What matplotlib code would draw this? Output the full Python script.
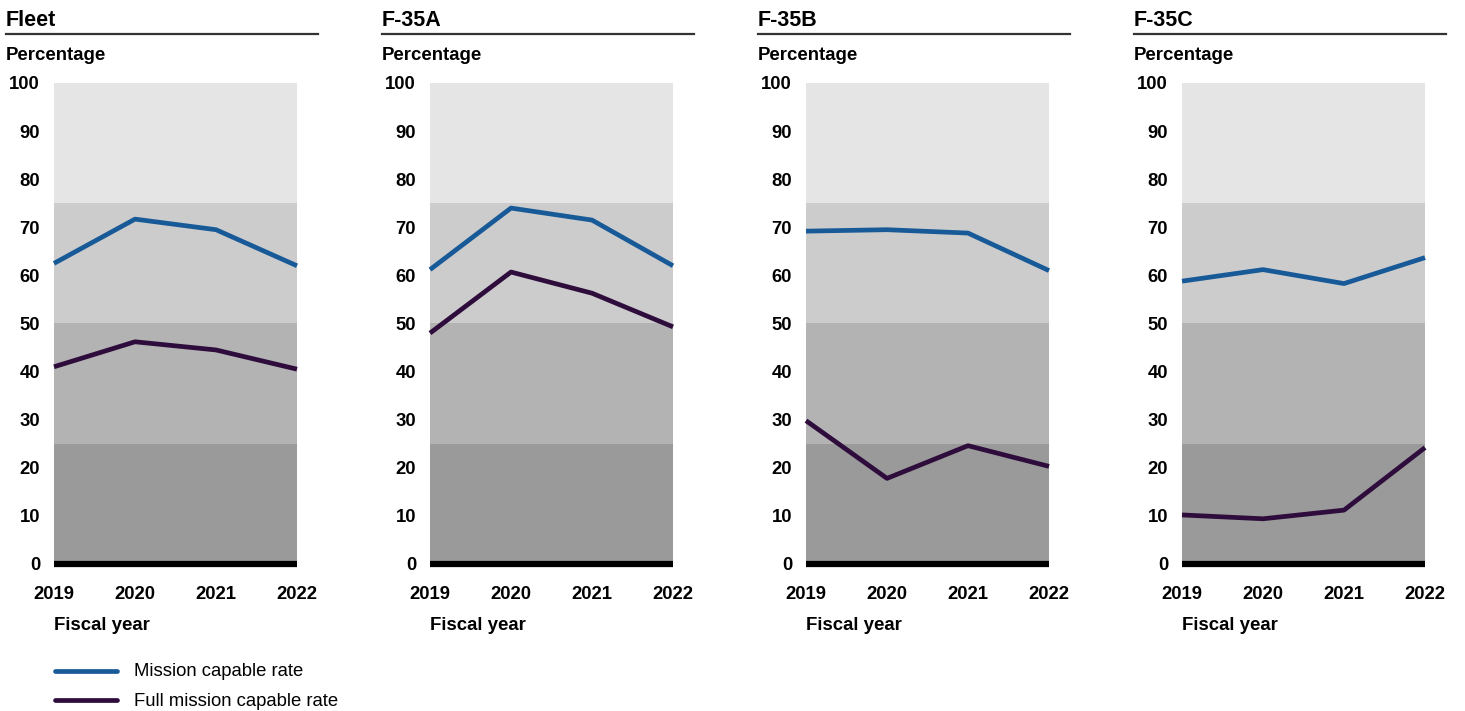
import matplotlib
matplotlib.use("Agg")
import matplotlib.pyplot as plt
from matplotlib.lines import Line2D

plt.rcParams['font.family'] = ['Liberation Sans', 'DejaVu Sans']

titles = ["Fleet", "F-35A", "F-35B", "F-35C"]
years = [2019, 2020, 2021, 2022]
mission_capable = [
    [62.5, 71.7, 69.5, 62.0],
    [61.2, 74.0, 71.5, 62.0],
    [69.2, 69.5, 68.8, 61.0],
    [58.8, 61.2, 58.3, 63.7],
]
full_mission_capable = [
    [41.0, 46.2, 44.5, 40.5],
    [48.0, 60.7, 56.3, 49.3],
    [29.8, 17.8, 24.6, 20.3],
    [10.2, 9.4, 11.2, 24.2],
]
yticks = [0, 10, 20, 30, 40, 50, 60, 70, 80, 90, 100]
bands = [(0, 25, "#9a9a9a"), (25, 50, "#b3b3b3"), (50, 75, "#cccccc"), (75, 100, "#e5e5e5")]

W, H = 1465, 711
fig = plt.figure(figsize=(W / 100, H / 100), dpi=100)

BLUE = "#185a98"
PURPLE = "#2e0d3d"

def fx(px):
    return px / W

def fy(py):
    return 1 - py / H

offset = 376
for i, t in enumerate(titles):
    x0 = 6 + i * offset
    ax_left = 54 + i * offset
    ax_w = 243
    ax = fig.add_axes([fx(ax_left), fy(564), fx(ax_w), (564 - 83) / H])
    for lo, hi, c in bands:
        ax.axhspan(lo, hi, color=c, lw=0, zorder=0)
    ax.axhline(0, color="black", lw=4.5, zorder=3, clip_on=False, solid_capstyle='butt')
    ax.plot(years, mission_capable[i], color=BLUE, lw=3.4, zorder=4, clip_on=False, solid_capstyle='butt')
    ax.plot(years, full_mission_capable[i], color=PURPLE, lw=3.4, zorder=4, clip_on=False, solid_capstyle='butt')
    ax.set_xlim(years[0], years[-1])
    ax.set_ylim(0, 100)
    ax.set_yticks(yticks)
    ax.set_xticks(years)
    ax.set_xticklabels([str(y) for y in years])
    ax.tick_params(axis='y', length=0, pad=10, labelsize=13.3)
    ax.tick_params(axis='x', length=0, pad=16, labelsize=13.3)
    for lab in ax.get_xticklabels() + ax.get_yticklabels():
        lab.set_fontweight('bold')
    for s in ax.spines.values():
        s.set_visible(False)
    fig.text(fx(x0), fy(20), t, fontsize=15.5, fontweight='bold', va='center', ha='left')
    fig.add_artist(Line2D([fx(x0), fx(x0 + 312)], [fy(34), fy(34)], color="#333333", lw=1.6))
    fig.text(fx(x0), fy(55), "Percentage", fontsize=13.4, fontweight='bold', va='center', ha='left')
    fig.text(fx(ax_left), fy(625), "Fiscal year", fontsize=13.4, fontweight='bold', va='center', ha='left')

# legend
fig.add_artist(Line2D([fx(55), fx(117)], [fy(671), fy(671)], color=BLUE, lw=3.4, solid_capstyle='round'))
fig.add_artist(Line2D([fx(55), fx(117)], [fy(700), fy(700)], color=PURPLE, lw=3.4, solid_capstyle='round'))
fig.text(fx(134), fy(672), "Mission capable rate", fontsize=13.3, va='center', ha='left')
fig.text(fx(134), fy(701), "Full mission capable rate", fontsize=13.3, va='center', ha='left')

fig.savefig("out.png", dpi=100)
